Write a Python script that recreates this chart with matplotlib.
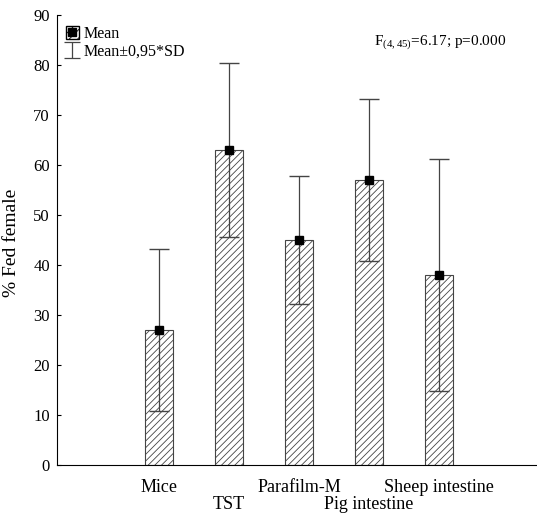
import matplotlib
matplotlib.use("Agg")
import matplotlib.pyplot as plt
from matplotlib.lines import Line2D
from matplotlib.patches import Patch
from matplotlib.path import Path
from matplotlib.legend_handler import HandlerTuple

plt.rcParams["font.family"] = ["Liberation Serif", "DejaVu Serif"]
plt.rcParams["mathtext.fontset"] = "custom"
plt.rcParams["mathtext.rm"] = "Liberation Serif"
plt.rcParams["hatch.linewidth"] = 0.6

# --- data ---
groups = ["Mice", "TST", "Parafilm-M", "Pig intestine", "Sheep intestine"]
means = [27.0, 63.0, 45.0, 57.0, 38.0]
sd_095 = [16.2, 17.4, 12.8, 16.2, 23.2]   # half-width of Mean±0.95*SD
positions = [1, 2, 3, 4, 5]

fig = plt.figure(figsize=(5.37, 5.15), dpi=100)
ax = fig.add_axes([0.106, 0.097, 0.894, 0.874])

ax.bar(positions, means, width=0.41, color="white", edgecolor="#444444",
       hatch="/////", linewidth=0.8, zorder=2)
ax.errorbar(positions, means, yerr=sd_095, fmt="s", color="black",
            ecolor="#444444", elinewidth=0.9, capsize=7, capthick=1.0,
            markersize=5.5, zorder=3)

ax.set_xlim(-0.46, 6.4)
ax.set_ylim(0, 90)
ax.set_yticks(range(0, 91, 10))

# staggered category labels: odd ones on the first row, even ones below
ax.set_xticks(positions[::2] + [6])
ax.set_xticklabels(groups[::2] + [""], fontsize=13)
ax.set_xticks(positions[1::2], minor=True)
ax.set_xticklabels(groups[1::2], minor=True, fontsize=13)
ax.tick_params(axis="x", which="major", length=0, pad=10)
ax.tick_params(axis="x", which="minor", length=0, pad=22.5)
ax.tick_params(axis="y", direction="in", length=3, labelsize=12, pad=5)
ax.spines["top"].set_visible(False)
ax.spines["right"].set_visible(False)
ax.set_ylabel("% Fed female", fontsize=14)
ax.yaxis.set_label_coords(-0.076, 0.494)

# error bar legend icon
ibar = Path([(-1, 1), (1, 1), (0, 1), (0, -1), (-1, -1), (1, -1)],
            [Path.MOVETO, Path.LINETO, Path.MOVETO, Path.LINETO,
             Path.MOVETO, Path.LINETO])
h_mean = (Patch(facecolor="white", edgecolor="black", hatch="////"),
          Line2D([], [], marker="s", color="black", linestyle="none",
                 markersize=6))
h_sd = Line2D([], [], marker=ibar, color="#444444", linestyle="none",
              markersize=12, markeredgewidth=0.9)
ax.legend([h_mean, h_sd], ["Mean", "Mean±0,95*SD"],
          handler_map={tuple: HandlerTuple(ndivide=1, pad=0)},
          loc="upper left", bbox_to_anchor=(0.0, 0.995), frameon=False,
          fontsize=11.5, handlelength=0.85, handleheight=0.9,
          handletextpad=0.25, labelspacing=0.1, borderaxespad=0.15)

ax.text(0.66, 0.937, r"F$_{(4,45)}$=6.17; p=0.000", transform=ax.transAxes,
        fontsize=11, va="center", ha="left")

fig.savefig("out.png", dpi=100)
